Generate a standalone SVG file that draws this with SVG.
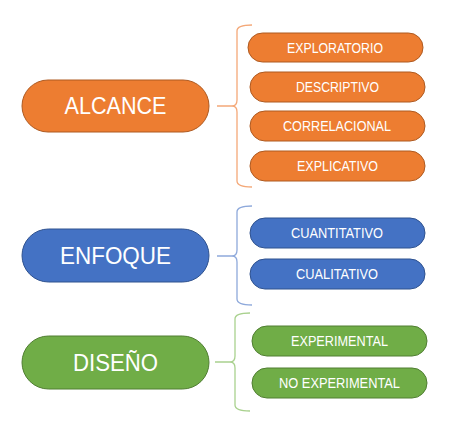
<svg xmlns="http://www.w3.org/2000/svg" width="460" height="422" viewBox="0 0 460 422">
<style>
.o{fill:#ED7D31;stroke:#AE5A21;stroke-width:1}
.b{fill:#4472C4;stroke:#2F528F;stroke-width:1}
.g{fill:#70AD47;stroke:#507E32;stroke-width:1}
.big{font-family:"Liberation Sans",Arial,sans-serif;font-size:24px;fill:#fff;text-anchor:middle}
.sm{font-family:"Liberation Sans",Arial,sans-serif;font-size:14.5px;fill:#fff;text-anchor:middle}
.br{fill:none;stroke-width:1.3}
</style>
<rect width="460" height="422" fill="#fff"/>
<g id="connectors">
<path class="br" stroke="#F4A878" d="M252,25 Q237,25 237,31 L237,100 Q237,106 232,106 L217,106 M232,106 Q237,106 237,112 L237,181 Q237,187 252,187"/>
<path class="br" stroke="#8EA9DB" d="M252,206 Q237,206 237,212 L237,250 Q237,256 232,256 L217,256 M232,256 Q237,256 237,262 L237,299 Q237,305 252,305"/>
<path class="br" stroke="#A9D18E" d="M250,313 Q235,313 235,319 L235,356 Q235,362 230,362 L215,362 M230,362 Q235,362 235,368 L235,405 Q235,411 250,411"/>
</g>
<g id="alcance"><rect class="o" x="22" y="80" width="187" height="52" rx="26"/><text class="big" x="115.5" y="114.4" textLength="102" lengthAdjust="spacingAndGlyphs">ALCANCE</text></g>
<g id="exploratorio"><rect class="o" x="248" y="33" width="175" height="29" rx="14.5"/><text class="sm" x="335" y="52.7" textLength="96" lengthAdjust="spacingAndGlyphs">EXPLORATORIO</text></g>
<g id="descriptivo"><rect class="o" x="250" y="72" width="175" height="30" rx="15"/><text class="sm" x="337.5" y="92.3" textLength="83" lengthAdjust="spacingAndGlyphs">DESCRIPTIVO</text></g>
<g id="correlacional"><rect class="o" x="250" y="111" width="175" height="30" rx="15"/><text class="sm" x="337" y="131.3" textLength="108" lengthAdjust="spacingAndGlyphs">CORRELACIONAL</text></g>
<g id="explicativo"><rect class="o" x="250" y="151" width="175" height="30" rx="15"/><text class="sm" x="337.5" y="171.3" textLength="81" lengthAdjust="spacingAndGlyphs">EXPLICATIVO</text></g>
<g id="enfoque"><rect class="b" x="22" y="229" width="187" height="53" rx="26.5"/><text class="big" x="115.5" y="264" textLength="111" lengthAdjust="spacingAndGlyphs">ENFOQUE</text></g>
<g id="cuantitativo"><rect class="b" x="250" y="218" width="175" height="30" rx="15"/><text class="sm" x="337" y="238.3" textLength="92" lengthAdjust="spacingAndGlyphs">CUANTITATIVO</text></g>
<g id="cualitativo"><rect class="b" x="250" y="259" width="175" height="30" rx="15"/><text class="sm" x="337" y="279.3" textLength="82" lengthAdjust="spacingAndGlyphs">CUALITATIVO</text></g>
<g id="diseno"><rect class="g" x="22" y="336" width="187" height="53" rx="26.5"/><text class="big" x="115.5" y="371" textLength="85" lengthAdjust="spacingAndGlyphs">DISEÑO</text></g>
<g id="experimental"><rect class="g" x="252" y="326" width="175" height="30" rx="15"/><text class="sm" x="339.5" y="346.3" textLength="97" lengthAdjust="spacingAndGlyphs">EXPERIMENTAL</text></g>
<g id="no-experimental"><rect class="g" x="252" y="368" width="175" height="30" rx="15"/><text class="sm" x="339.5" y="388.3" textLength="121" lengthAdjust="spacingAndGlyphs">NO EXPERIMENTAL</text></g>
</svg>
